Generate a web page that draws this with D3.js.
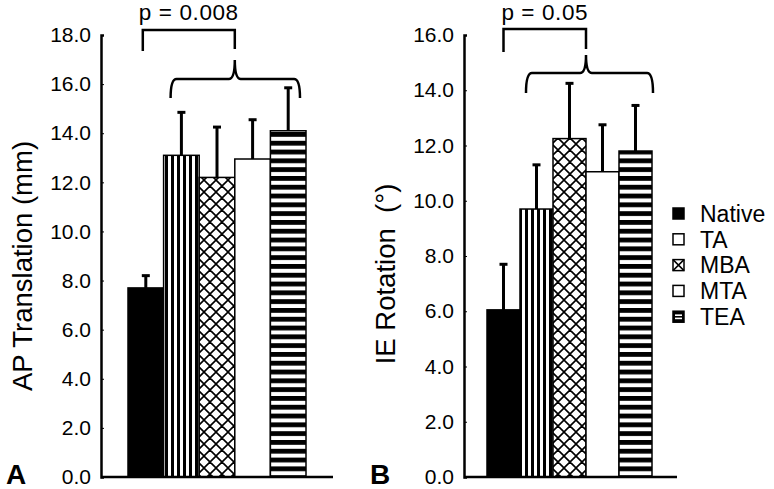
<!DOCTYPE html>
<html>
<head>
<meta charset="utf-8">
<script src="https://cdn.jsdelivr.net/npm/d3@7"></script>
<style>
  html, body { margin: 0; padding: 0; background: #fff; }
  svg { display: block; font-family: "Liberation Sans", Arial, Helvetica, sans-serif; }
</style>
</head>
<body>
<svg id="chart" width="774" height="489"></svg>
<script>
// ---------- data ----------
const categories = ["Native", "TA", "MBA", "MTA", "TEA"];
const apMean = [7.7, 13.1, 12.2, 12.95, 14.1];
const apErr  = [0.5, 1.75, 2.05, 1.6, 1.75];
const ieMean = [6.05, 9.7, 12.25, 11.05, 11.8];
const ieErr  = [1.65, 1.6, 2.0, 1.7, 1.65];
const apTicks = [0, 2, 4, 6, 8, 10, 12, 14, 16, 18];
const ieTicks = [0, 2, 4, 6, 8, 10, 12, 14, 16];
const pLabels = ["p = 0.008", "p = 0.05"];
const panelLetters = ["A", "B"];
const axisTitles = ["AP Translation (mm)", "IE Rotation\u00a0 (°)"];

// ---------- setup ----------
const svg = d3.select("#chart");
const defs = svg.append("defs");
const fillFor = {Native: "#000", TA: "url(#vstripe)", MBA: "url(#xhatch)", MTA: "#fff", TEA: "url(#hstripe)"};

// vertical stripes
const pv = defs.append("pattern").attr("id", "vstripe").attr("patternUnits", "userSpaceOnUse")
  .attr("width", 6).attr("height", 6);
pv.append("rect").attr("width", 6).attr("height", 6).attr("fill", "#fff");
pv.append("rect").attr("x", 3).attr("width", 3).attr("height", 6).attr("fill", "#000");

// crosshatch
const px = defs.append("pattern").attr("id", "xhatch").attr("patternUnits", "userSpaceOnUse")
  .attr("width", 12).attr("height", 12);
px.append("rect").attr("width", 12).attr("height", 12).attr("fill", "#fff");
px.append("path").attr("d", "M-6,6L6,-6M0,12L12,0M6,18L18,6M-6,6L6,18M0,0L12,12M6,-6L18,6")
  .attr("stroke", "#000").attr("stroke-width", 1.6).attr("fill", "none");

// horizontal stripes
const ph = defs.append("pattern").attr("id", "hstripe").attr("patternUnits", "userSpaceOnUse")
  .attr("width", 9).attr("height", 8.8);
ph.append("rect").attr("width", 9).attr("height", 8.8).attr("fill", "#fff");
ph.append("rect").attr("y", 0).attr("width", 9).attr("height", 4.8).attr("fill", "#000");

function panel(cfg) {
  const x = d3.scaleBand().domain(categories).range([cfg.x0, cfg.x1]).padding(0);
  const y = d3.scaleLinear().domain([0, cfg.ymax]).range([477, 35]);
  const g = svg.append("g");

  // bars
  g.selectAll("rect.bar").data(categories).join("rect")
    .attr("class", "bar")
    .attr("x", d => x(d))
    .attr("y", (d, i) => y(cfg.mean[i]))
    .attr("width", x.bandwidth())
    .attr("height", (d, i) => y(0) - y(cfg.mean[i]))
    .attr("fill", d => fillFor[d])
    .attr("stroke", "#000").attr("stroke-width", 1.5);

  // error bars
  const eg = g.selectAll("g.err").data(categories).join("g").attr("class", "err");
  eg.append("line")
    .attr("x1", d => x(d) + x.bandwidth() / 2).attr("x2", d => x(d) + x.bandwidth() / 2)
    .attr("y1", (d, i) => y(cfg.mean[i])).attr("y2", (d, i) => y(cfg.mean[i] + cfg.err[i]))
    .attr("stroke", "#000").attr("stroke-width", 3);
  eg.append("line")
    .attr("x1", d => x(d) + x.bandwidth() / 2 - 4).attr("x2", d => x(d) + x.bandwidth() / 2 + 4)
    .attr("y1", (d, i) => y(cfg.mean[i] + cfg.err[i])).attr("y2", (d, i) => y(cfg.mean[i] + cfg.err[i]))
    .attr("stroke", "#000").attr("stroke-width", 3);

  // axis
  const ax = g.append("g").attr("transform", `translate(${cfg.ax},0)`)
    .call(d3.axisLeft(y).tickValues(cfg.ticks).tickSize(-3).tickPadding(10).tickFormat(d3.format(".1f")));
  ax.select(".domain").attr("stroke-width", 2.5);
  ax.selectAll(".tick line").attr("stroke-width", 1);
  ax.selectAll(".tick text").attr("font-size", 21).attr("font-family", "Liberation Sans, Arial, sans-serif").attr("fill", "#000");

  // baseline
  g.append("line").attr("x1", cfg.ax).attr("x2", cfg.baseEnd).attr("y1", y(0)).attr("y2", y(0))
    .attr("stroke", "#000").attr("stroke-width", 2.5);

  // axis title
  g.append("text").attr("transform", `translate(${cfg.titleX},${cfg.titleY}) rotate(-90)`)
    .attr("text-anchor", "middle").attr("font-size", 27.5).style("white-space", "pre")
    .text(cfg.title);

  // panel letter
  g.append("text").attr("x", cfg.letterX).attr("y", 484).attr("font-size", 28).attr("font-weight", "bold")
    .text(cfg.letter);

  // significance bracket
  const lx = x(categories[0]) + x.bandwidth() / 2 - cfg.legShift;
  const rx = x(categories[3]);
  const b = cfg.br;
  g.append("path")
    .attr("d", `M${lx},${b.legL}V${b.top}H${rx}V${b.legR}`)
    .attr("fill", "none").attr("stroke", "#000").attr("stroke-width", 2.5);
  g.append("text").attr("x", (lx + rx) / 2).attr("y", 19.5).attr("text-anchor", "middle")
    .attr("font-size", 22.5).attr("letter-spacing", 0.6).text(cfg.p);

  // curly brace
  const bx0 = x(categories[1]) + cfg.braceL, bx1 = x(categories[4]) + x.bandwidth() - cfg.braceR;
  const r = 6;
  const d = `M${bx0},${b.end} Q${bx0},${b.h} ${bx0 + r},${b.h} H${rx - r} Q${rx},${b.h} ${rx},${b.tip}` +
            ` Q${rx},${b.h} ${rx + r},${b.h} H${bx1 - r} Q${bx1},${b.h} ${bx1},${b.end}`;
  g.append("path").attr("d", d).attr("fill", "none").attr("stroke", "#000").attr("stroke-width", 2.5);
}

panel({x0: 128, x1: 306, ax: 101, baseEnd: 333, ymax: 18, ticks: apTicks, mean: apMean, err: apErr,
  title: axisTitles[0], titleX: 32, titleY: 266, letter: panelLetters[0], letterX: 6, p: pLabels[0],
  legShift: 3, braceL: 7, braceR: 6, br: {top: 30, legL: 51, legR: 49, tip: 60, h: 79, end: 98}});
panel({x0: 487, x1: 652, ax: 464, baseEnd: 677, ymax: 16, ticks: ieTicks, mean: ieMean, err: ieErr,
  title: axisTitles[1], titleX: 395, titleY: 274, letter: panelLetters[1], letterX: 370, p: pLabels[1],
  legShift: 0, braceL: 6, braceR: -1, br: {top: 29, legL: 52, legR: 49, tip: 55, h: 73, end: 93}});

// ---------- legend ----------
const leg = svg.append("g").attr("transform", "translate(673,208)");
const li = leg.selectAll("g").data(categories).join("g")
  .attr("transform", (d, i) => `translate(0,${i * 25.8})`);
li.append("rect").attr("width", 11).attr("height", 11)
  .attr("fill", d => (d === "Native" || d === "TEA") ? "#000" : "#fff")
  .attr("stroke", "#000").attr("stroke-width", 1.5);
li.filter(d => d === "MBA").append("path").attr("d", "M0,0L11,11M11,0L0,11")
  .attr("stroke", "#000").attr("stroke-width", 1.5);
li.filter(d => d === "TEA").append("rect").attr("x", 2).attr("y", 3.2).attr("width", 7).attr("height", 1.6).attr("fill", "#fff");
li.filter(d => d === "TEA").append("rect").attr("x", 2).attr("y", 6.4).attr("width", 7).attr("height", 1.6).attr("fill", "#fff");
li.append("text").attr("x", 27).attr("y", 13.8).attr("font-size", 23).text(d => d);
</script>
</body>
</html>
